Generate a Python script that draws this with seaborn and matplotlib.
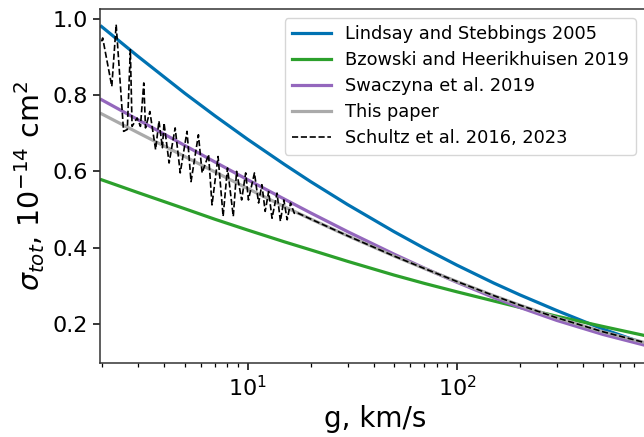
import numpy as np
import pandas as pd
import matplotlib
matplotlib.use("Agg")
import matplotlib.pyplot as plt
import seaborn as sns

# ---- data ----
g_models = [2, 3, 5, 7, 10, 15, 20, 30, 50, 70, 100, 150, 200, 300, 500, 842]
lindsay = [0.980, 0.901, 0.805, 0.745, 0.684, 0.618, 0.573, 0.513, 0.442, 0.398,
           0.354, 0.307, 0.276, 0.235, 0.186, 0.143]
bzowski = [0.578, 0.544, 0.502, 0.474, 0.446, 0.415, 0.394, 0.364, 0.328, 0.306,
           0.284, 0.260, 0.243, 0.220, 0.193, 0.166]
swaczyna = [0.788, 0.735, 0.668, 0.624, 0.578, 0.527, 0.491, 0.442, 0.383, 0.346,
            0.309, 0.269, 0.243, 0.209, 0.172, 0.140]
this_paper = [0.751, 0.701, 0.639, 0.598, 0.555, 0.507, 0.475, 0.431, 0.378, 0.345,
              0.311, 0.274, 0.249, 0.216, 0.179, 0.147]

g_schultz = [2.0, 2.026, 2.240, 2.350, 2.550, 2.657, 2.747, 2.800, 2.959, 3.070,
             3.185, 3.246, 3.406, 3.628, 3.764, 3.910, 3.980, 4.208, 4.499, 4.757,
             5.126, 5.358, 5.811, 6.056, 6.498, 6.750, 7.216, 7.627, 8.004, 8.530,
             8.849, 9.354, 9.779, 10.08, 10.77, 11.27, 11.69, 12.12, 12.59, 13.07,
             13.81, 14.33, 14.88, 15.44, 16.02, 16.70, 17.45,
             20, 30, 50, 70, 100, 150, 200, 300, 500, 842]
schultz = [0.941, 0.950, 0.823, 0.985, 0.705, 0.710, 0.919, 0.718, 0.740, 0.718,
           0.832, 0.714, 0.757, 0.657, 0.732, 0.662, 0.727, 0.622, 0.714, 0.596,
           0.705, 0.573, 0.696, 0.596, 0.644, 0.512, 0.639, 0.482, 0.609, 0.482,
           0.600, 0.525, 0.596, 0.525, 0.596, 0.517, 0.565, 0.495, 0.547, 0.477,
           0.543, 0.469, 0.525, 0.473, 0.517, 0.490, 0.490,
           0.475, 0.431, 0.378, 0.345, 0.311, 0.274, 0.249, 0.216, 0.179, 0.147]

labels = ["Lindsay and Stebbings 2005", "Bzowski and Heerikhuisen 2019",
          "Swaczyna et al. 2019", "This paper", "Schultz et al. 2016, 2023"]
colors = ["#0072b2", "#2ca02c", "#9467bd", "#aaaaaa", "black"]

plt.rcParams['font.family'] = ['DejaVu Sans']
plt.rcParams['mathtext.fontset'] = 'dejavusans'

fig = plt.figure(figsize=(6.44, 4.37), dpi=100)
ax = fig.add_axes([100 / 644, 74.3 / 437, 1 - 100 / 644 + 0.01, 353.7 / 437])

model_series = [lindsay, bzowski, swaczyna, this_paper]
for vals, lab, col in zip(model_series, labels[:4], colors[:4]):
    sns.lineplot(x=g_models, y=vals, ax=ax, color=col, lw=2.3, label=lab, sort=False)
sns.lineplot(x=g_schultz, y=schultz, ax=ax, color=colors[4], lw=1.2,
             linestyle="--", label=labels[4], sort=False)

ax.set_xscale("log")
ax.set_xlim(1.967, 842)
ax.set_ylim(0.098, 1.026)
ax.set_yticks([0.2, 0.4, 0.6, 0.8, 1.0])
ax.set_yticklabels(["0.2", "0.4", "0.6", "0.8", "1.0"])
ax.tick_params(axis="both", which="major", labelsize=16, length=5, width=1.1)
ax.tick_params(axis="x", which="minor", length=3, width=0.9)
ax.set_xlabel("g, km/s", fontsize=20)
ax.set_ylabel(r"$\sigma_{tot}$, $10^{-14}$ cm$^2$", fontsize=20.5)
for s in ax.spines.values():
    s.set_color("#333333")
    s.set_linewidth(1.1)
ax.spines["right"].set_visible(False)

leg = ax.legend(loc="upper right", bbox_to_anchor=(636 / 644, 1 - 18.3 / 437),
                bbox_transform=fig.transFigure, borderaxespad=0, fontsize=12.8,
                handlelength=2.2, labelspacing=0.45, frameon=True)

fig.savefig("out.png", dpi=100)
